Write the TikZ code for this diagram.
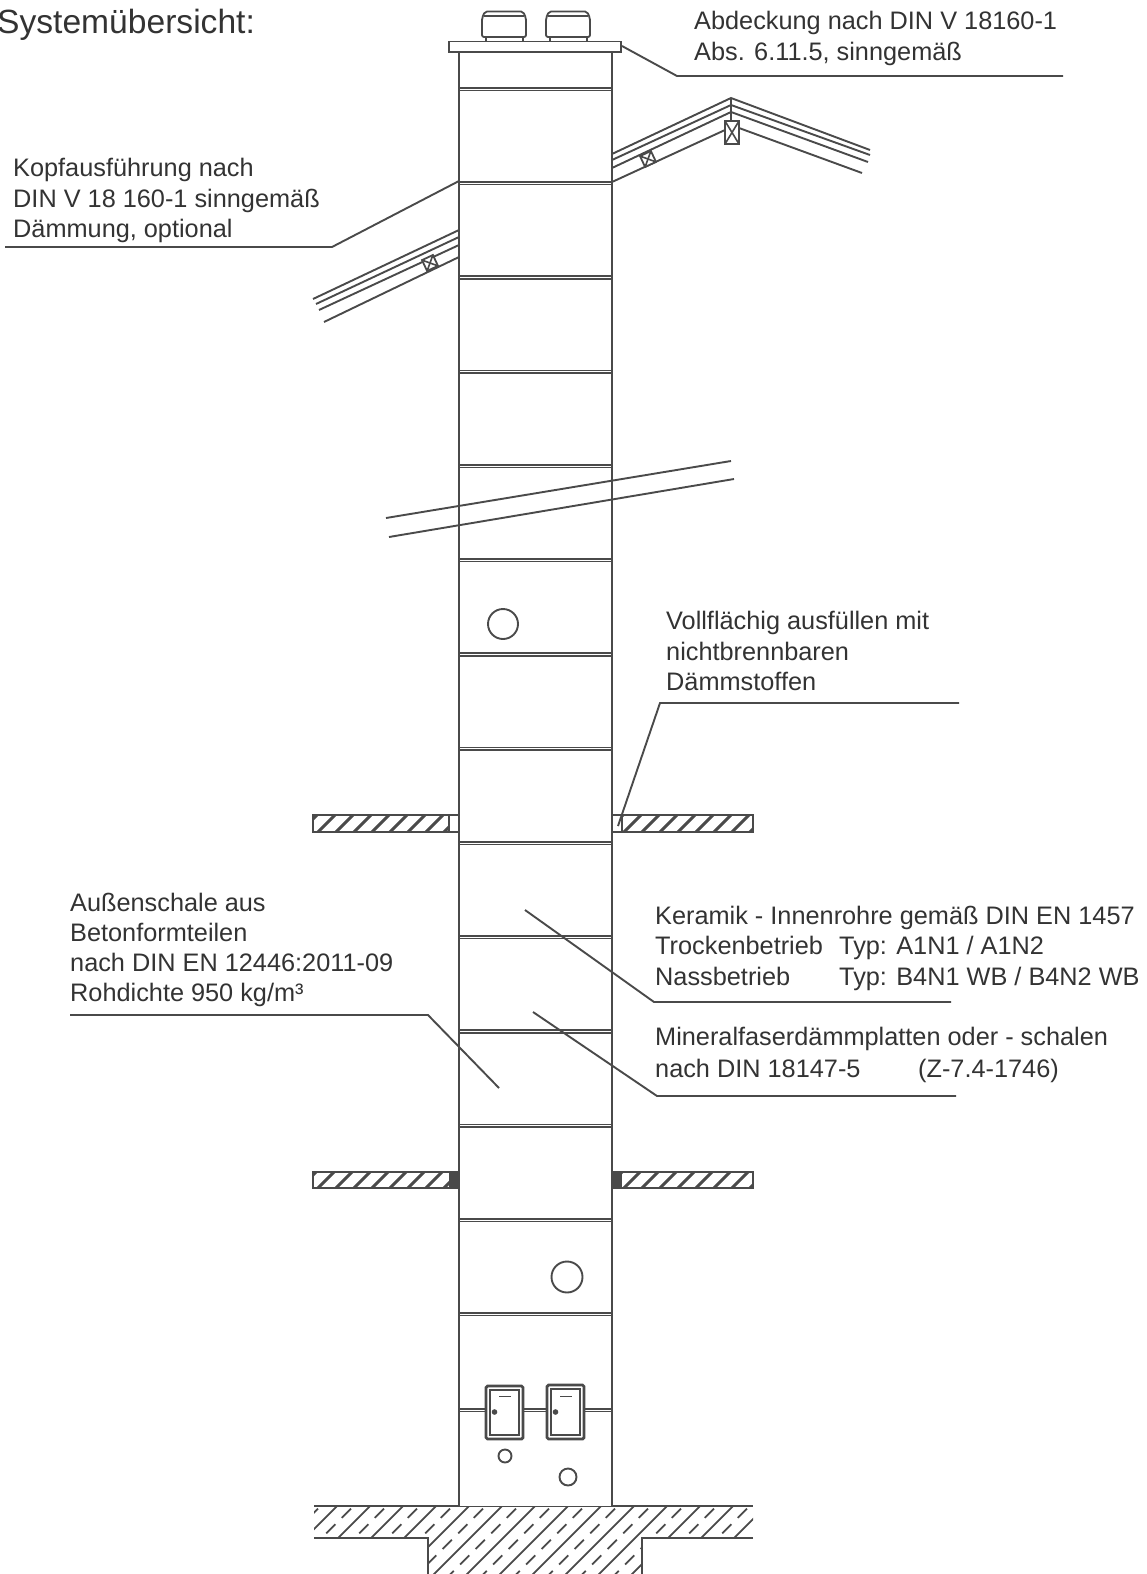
\documentclass[tikz,border=0pt]{standalone}
\usepackage{fontspec}
\setmainfont{Liberation Sans}
\definecolor{ink}{HTML}{4A4A4A}
\definecolor{txt}{HTML}{333333}
\tikzset{
  ln/.style={draw=ink,line width=1.9pt},
  shaft ln/.style={draw=ink,line width=2.3pt},
  thin ln/.style={draw=ink,line width=1.6pt},
  slab ln/.style={draw=ink,line width=2.6pt},
  label/.style={anchor=base west,inner sep=0pt,text=txt,font=\fontsize{25.3}{28}\selectfont},
  title/.style={anchor=base west,inner sep=0pt,text=txt,font=\fontsize{33.6}{36}\selectfont},
  hollow/.style={draw=ink,line width=1.8pt,fill=white},
}
\begin{document}
\begin{tikzpicture}[x=1pt,y=-1pt]
\useasboundingbox (0,0) rectangle (1146,1574);
\fill[white] (0,0) rectangle (1146,1574);

% ground and foundation hatching
\begin{scope}
\clip (314,1506) -- (753,1506) -- (753,1538) -- (642,1538) -- (642,1574) -- (428,1574) -- (428,1538) -- (314,1538) -- cycle;
\foreach \k in {0,...,20}{
  \draw[draw=ink,line width=1.8pt] ({230+33*\k},1580) -- +(100,-100);
  \draw[draw=ink,line width=1.8pt,dash pattern=on 13pt off 9pt] ({246.5+33*\k},1580) -- +(100,-100);
}
\end{scope}
\draw[shaft ln] (314,1506) -- (753,1506);
\draw[shaft ln] (314,1538) -- (428,1538) -- (428,1574);
\draw[shaft ln] (753,1538) -- (642,1538) -- (642,1574);

% floor slabs
\foreach \top/\bot/\xa/\xb in {815/832/313/459,815/832/612/753,1172/1188/313/459,1172/1188/612/753}{
  \draw[slab ln] (\xa,\top) rectangle (\xb,\bot);
  \begin{scope}
    \clip (\xa,\top) rectangle (\xb,\bot);
    \foreach \k in {0,...,26}{
      \draw[draw=ink,line width=3pt] ({280+18*\k},\bot+2) -- +(21,-21);
    }
  \end{scope}
}
\fill[white] (449,816) rectangle (458.5,831);
\draw[ln] (449,815) -- (449,832);
\fill[white] (612.5,816) rectangle (622,831);
\draw[ln] (622,815) -- (622,832);
\fill[ink] (449,1171) rectangle (459,1189);
\fill[ink] (612,1171) rectangle (622,1189);

% shaft
\fill[white] (459.2,52) rectangle (611.8,1506);
\draw[shaft ln] (459.2,52) -- (459.2,1506);
\draw[shaft ln] (611.8,52) -- (611.8,1506);
\foreach \k in {0,...,13}{
  \draw[thin ln] (459,{87.7+94.25*\k}) -- (612,{87.7+94.25*\k});
  \draw[thin ln] (459,{90.3+94.25*\k}) -- (612,{90.3+94.25*\k});
}
\foreach \y in {1408.7,1411.3}{
  \draw[thin ln] (459,\y) -- (486,\y);
  \draw[thin ln] (523,\y) -- (547,\y);
  \draw[thin ln] (584,\y) -- (612,\y);
}

% cap and vents
\draw[hollow] (449,41.5) rectangle (621,52);
\foreach \x in {482,546}{
  \draw[hollow] (\x+4,37) rectangle (\x+41,41.5);
  \draw[hollow,rounded corners=2pt] (\x,37) -- (\x,18) -- (\x+3,11.5) -- (\x+41,11.5) -- (\x+44,18) -- (\x+44,37) -- cycle;
  \draw[thin ln] (\x+2,16) -- (\x+42,16);
}

% right roof
\draw[ln] (612,154) -- (731,98) -- (870,150);
\draw[ln] (612,160) -- (731,105) -- (870,155);
\draw[ln] (612,168) -- (731,112) -- (868,162);
\draw[ln] (612,182) -- (725,130);
\draw[ln] (739,128) -- (862,173);
\draw[ln] (731,98) -- (731,121);
\draw[hollow] (725,121) rectangle (739,144);
\draw[thin ln] (725,121) -- (739,144) (739,121) -- (725,144);
\begin{scope}[shift={(648,159)},rotate=25]
  \draw[hollow] (-6,-6) rectangle (6,6);
  \draw[thin ln] (-6,-6) -- (6,6) (6,-6) -- (-6,6);
\end{scope}

% left roof
\draw[ln] (313,299) -- (459,230);
\draw[ln] (316,304) -- (459,237);
\draw[ln] (319,310) -- (459,245);
\draw[ln] (324,322) -- (459,257);
\begin{scope}[shift={(430,263)},rotate=25]
  \draw[hollow] (-6,-6) rectangle (6,6);
  \draw[thin ln] (-6,-6) -- (6,6) (6,-6) -- (-6,6);
\end{scope}

% ceiling slab passing behind the shaft
\draw[ln] (386,518) -- (731,461);
\draw[ln] (389,537) -- (734,479);

% openings
\draw[ln] (503,624) circle (15);
\draw[ln] (567,1277) circle (15.5);
\draw[ln] (505,1456) circle (6.5);
\draw[ln] (568,1477) circle (8.5);

% doors
\foreach \x/\y in {486/1386,547/1385}{
  \draw[draw=ink,line width=2.8pt,fill=white,rounded corners=1.5pt] (\x,\y) rectangle (\x+37,1439);
  \draw[thin ln] (\x+4,\y+4) rectangle (\x+33,1435);
  \fill[ink] (\x+8.5,1412) circle (2.8);
  \draw[thin ln] (\x+13,1396.5) -- (\x+25,1396.5);
}

% texts
\node[title] (t0) at (-3,33) {Systemübersicht:};
\node[label] (a1) at (694,29) {Abdeckung nach DIN V 18160-1};
\node[label] (a2) at (694,60) {Abs. 6.11.5, sinngemäß};
\node[label] (k1) at (13,176) {Kopfausführung nach};
\node[label] (k2) at (13,207) {DIN V 18 160-1 sinngemäß};
\node[label] (k3) at (13,237) {Dämmung, optional};
\node[label] (v1) at (666,629) {Vollflächig ausfüllen mit};
\node[label] (v2) at (666,660) {nichtbrennbaren};
\node[label] (v3) at (666,690) {Dämmstoffen};
\node[label] (s1) at (70,911) {Außenschale aus};
\node[label] (s2) at (70,941) {Betonformteilen};
\node[label] (s3) at (70,971) {nach DIN EN 12446:2011-09};
\node[label] (s4) at (70,1001) {Rohdichte 950 kg/m³};
\node[label] (r1) at (655,924.5) {Keramik - Innenrohre gemäß DIN EN 1457};
\node[label] (r2) at (655,954.5) {\makebox[184pt][l]{Trockenbetrieb}Typ: A1N1 / A1N2};
\node[label] (r3) at (655,985) {\makebox[184pt][l]{Nassbetrieb}Typ: B4N1 WB / B4N2 WB};
\node[label] (m1) at (655,1045) {Mineralfaserdämmplatten oder - schalen};
\node[label] (m2) at (655,1077.5) {\makebox[263pt][l]{nach DIN 18147-5}(Z-7.4-1746)};

% leaders
\coordinate (la0) at (622,46); \coordinate (la1) at (677,76); \coordinate (la2) at (1063,76);
\draw[ln] (la0) -- (la1) -- (la2);
\coordinate (lk0) at (459,181); \coordinate (lk1) at (332,247); \coordinate (lk2) at (5,247);
\draw[ln] (lk0) -- (lk1) -- (lk2);
\coordinate (lv0) at (618,826); \coordinate (lv1) at (660,703); \coordinate (lv2) at (959,703);
\draw[ln] (lv0) -- (lv1) -- (lv2);
\coordinate (lr0) at (525,910); \coordinate (lr1) at (654,1002); \coordinate (lr2) at (951,1002);
\draw[ln] (lr0) -- (lr1) -- (lr2);
\coordinate (lm0) at (533,1012); \coordinate (lm1) at (657,1096); \coordinate (lm2) at (956,1096);
\draw[ln] (lm0) -- (lm1) -- (lm2);
\coordinate (ls0) at (499,1088); \coordinate (ls1) at (428,1015); \coordinate (ls2) at (70,1015);
\draw[ln] (ls0) -- (ls1) -- (ls2);
\end{tikzpicture}
\end{document}
